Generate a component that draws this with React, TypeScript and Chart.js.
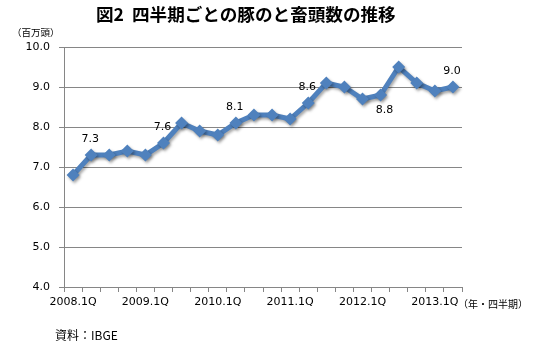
import React, { useEffect, useRef } from "react";
import { Chart, registerables } from "chart.js";

Chart.register(...registerables);

const quarters: string[] = [
  "2008.1Q", "2008.2Q", "2008.3Q", "2008.4Q",
  "2009.1Q", "2009.2Q", "2009.3Q", "2009.4Q",
  "2010.1Q", "2010.2Q", "2010.3Q", "2010.4Q",
  "2011.1Q", "2011.2Q", "2011.3Q", "2011.4Q",
  "2012.1Q", "2012.2Q", "2012.3Q", "2012.4Q",
  "2013.1Q", "2013.2Q",
];
const slaughter: number[] = [
  6.8, 7.3, 7.3, 7.4, 7.3, 7.6, 8.1, 7.9, 7.8, 8.1, 8.3,
  8.3, 8.2, 8.6, 9.1, 9.0, 8.7, 8.8, 9.5, 9.1, 8.9, 9.0,
];
// indices of points carrying a value label, and where it sits
const labelIndices: number[] = [1, 5, 9, 13, 17, 21];
const labelSides: string[] = ["above", "above", "above", "above", "below", "above"];
const yTicks: number[] = [4, 5, 6, 7, 8, 9, 10];

const FONT = "'DejaVu Sans', sans-serif";
const JP = "'Noto Sans CJK JP', sans-serif";

const valueLabels = {
  id: "valueLabels",
  afterDatasetsDraw(chart: any) {
    const ctx = chart.ctx;
    const meta = chart.getDatasetMeta(0);
    ctx.save();
    ctx.fillStyle = "#000";
    ctx.font = `11px ${FONT}`;
    ctx.textAlign = "center";
    ctx.textBaseline = "middle";
    labelIndices.forEach((idx, k) => {
      const pt = meta.data[idx];
      const dy = labelSides[k] === "below" ? 15 : -16;
      const dx = labelSides[k] === "below" ? 4 : -1;
      ctx.fillText(slaughter[idx].toFixed(1), pt.x + dx, pt.y + dy);
    });
    ctx.restore();
  },
};

const lineShadow = {
  id: "lineShadow",
  beforeDatasetDraw(chart: any) {
    const ctx = chart.ctx;
    ctx.save();
    ctx.shadowColor = "rgba(0,0,0,0.35)";
    ctx.shadowBlur = 3;
    ctx.shadowOffsetX = 1.5;
    ctx.shadowOffsetY = 2;
  },
  afterDatasetDraw(chart: any) {
    chart.ctx.restore();
  },
};

export default function App() {
  const ref = useRef<HTMLCanvasElement | null>(null);
  useEffect(() => {
    if (!ref.current) return;
    const chart = new Chart(ref.current, {
      type: "line",
      data: {
        labels: quarters,
        datasets: [
          {
            data: slaughter,
            borderColor: "#4F81BD",
            backgroundColor: "#4F81BD",
            borderWidth: 5,
            pointStyle: "rectRot",
            pointRadius: 6.5,
            pointBorderWidth: 0,
            tension: 0,
          },
        ],
      },
      options: {
        animation: false,
        responsive: false,
        maintainAspectRatio: false,
        layout: { padding: { left: 0, right: 79, top: 47, bottom: 44 } },
        plugins: {
          legend: { display: false },
          tooltip: { enabled: false },
          title: { display: false },
        },
        scales: {
          x: {
            type: "category",
            offset: true,
            afterFit: (s: any) => {
              s.height = 25;
            },
            grid: {
              offset: true,
              drawOnChartArea: false,
              drawTicks: true,
              tickLength: 5,
              color: "#868686",
            },
            border: { color: "#868686", width: 1 },
            ticks: {
              autoSkip: false,
              maxRotation: 0,
              padding: 4,
              color: "#000",
              font: { family: FONT, size: 11 },
              callback: (_v: any, i: number) => (i % 4 === 0 ? quarters[i] : ""),
            },
          },
          y: {
            min: 4,
            max: 10,
            afterFit: (s: any) => {
              s.width = 64;
            },
            afterBuildTicks: (s: any) => {
              s.ticks = yTicks.map((v) => ({ value: v }));
            },
            grid: {
              color: "#868686",
              drawTicks: true,
              tickLength: 5,
            },
            border: { color: "#868686", width: 1 },
            ticks: {
              padding: 9,
              color: "#000",
              font: { family: FONT, size: 11 },
              callback: (v: any) => Number(v).toFixed(1),
            },
          },
        },
      },
      plugins: [lineShadow, valueLabels],
    } as any);
    return () => chart.destroy();
  }, []);

  return (
    <div
      style={{
        position: "fixed",
        left: 0,
        top: 0,
        width: 541,
        height: 356,
        background: "#fff",
      }}
    >
      <canvas ref={ref} width={541} height={356} style={{ display: "block" }} />
      <div
        style={{
          position: "absolute",
          left: 96,
          top: 1,
          fontFamily: JP,
          fontWeight: 700,
          fontSize: 17.6,
          whiteSpace: "pre",
          color: "#000",
        }}
      >
        {"図2  四半期ごとの豚のと畜頭数の推移"}
      </div>
      <div
        style={{
          position: "absolute",
          left: 12,
          top: 25,
          fontFamily: JP,
          fontSize: 9.5,
          color: "#000",
        }}
      >
        （百万頭）
      </div>
      <div
        style={{
          position: "absolute",
          left: 458,
          top: 296,
          fontFamily: JP,
          fontSize: 10,
          color: "#000",
        }}
      >
        （年・四半期）
      </div>
      <div
        style={{
          position: "absolute",
          left: 55,
          top: 326,
          fontFamily: JP,
          fontSize: 12,
          color: "#000",
        }}
      >
        資料：IBGE
      </div>
    </div>
  );
}
